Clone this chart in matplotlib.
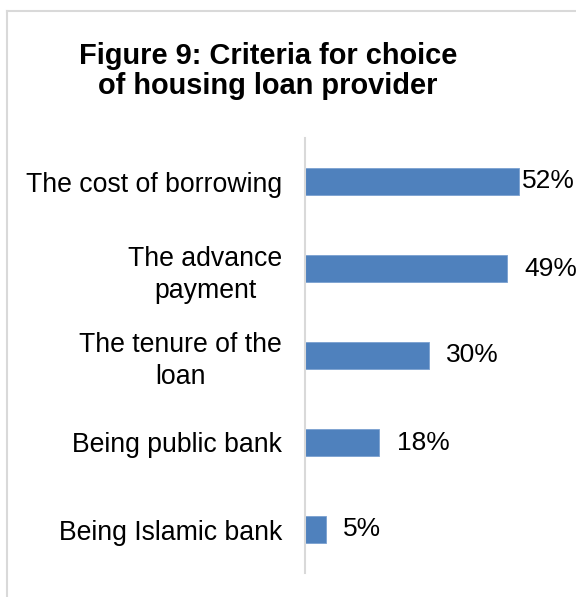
import matplotlib
matplotlib.use("Agg")
import matplotlib.pyplot as plt
from matplotlib.lines import Line2D

plt.rcParams['font.family'] = ['Liberation Sans', 'DejaVu Sans']

categories = ["The cost of borrowing", "The advance\npayment", "The tenure of the\nloan",
              "Being public bank", "Being Islamic bank"]
values = [52, 49, 30, 18, 5]
title = "Figure 9: Criteria for choice\nof housing loan provider"

W, H, DPI = 576, 597, 100
fig = plt.figure(figsize=(W / DPI, H / DPI), dpi=DPI)
fig.patch.set_facecolor("white")

# outer chart frame (left and top edges visible)
fig.add_artist(Line2D([7 / W, 7 / W], [0, 1 - 11 / H], color="#d9d9d9", lw=1.5,
                      transform=fig.transFigure))
fig.add_artist(Line2D([7 / W, 1], [1 - 11 / H, 1 - 11 / H], color="#d9d9d9", lw=1.5,
                      transform=fig.transFigure))

left_px, right_px = 305, 576
top_px, bot_px = 138, 573
ax = fig.add_axes([left_px / W, 1 - bot_px / H, (right_px - left_px) / W, (bot_px - top_px) / H])

y = list(range(len(categories)))
ax.barh(y, values, height=0.31, color="#4f81bd", edgecolor="#7aa0d0", linewidth=0.6)
ax.set_ylim(len(categories) - 0.5, -0.5)
ax.set_xlim(0, (right_px - left_px) / 4.12)

for i, v in enumerate(values):
    off = 2 if v == max(values) else 12.5
    ax.annotate(f"{v}%", (v, i), xytext=(off, 0), textcoords="offset points",
                va="center", ha="left", fontsize=19, color="black")

ax.set_yticks(y)
ax.set_yticklabels(categories, fontsize=19.2, multialignment="center", linespacing=1.3)
ax.tick_params(axis="y", length=0, pad=16.5)
ax.set_xticks([])
for s in ["top", "right", "bottom"]:
    ax.spines[s].set_visible(False)
ax.spines["left"].set_color("#d9d9d9")
ax.spines["left"].set_linewidth(1.5)

fig.text(268 / W, 1 - 71 / H, title, ha="center", va="center", fontsize=20.9,
         fontweight="bold", linespacing=1.12)

fig.savefig("out.png", dpi=DPI)
